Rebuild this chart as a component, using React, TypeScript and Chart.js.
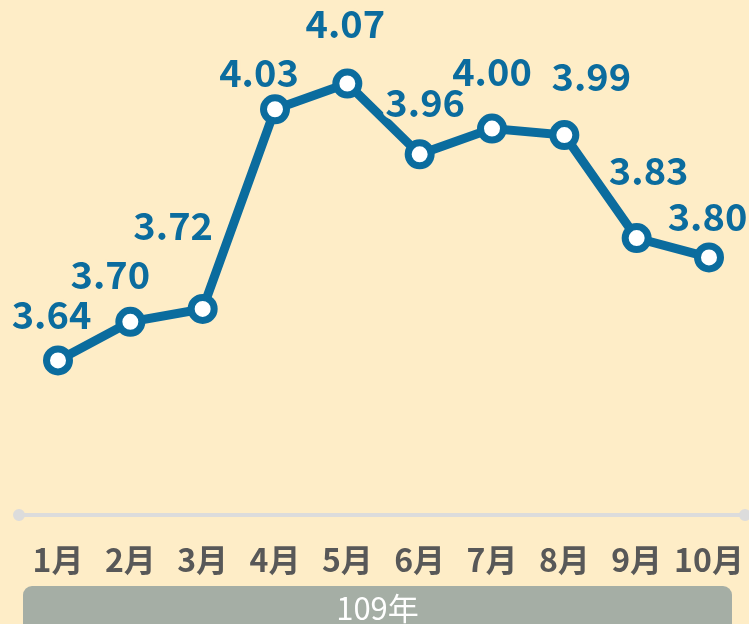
import React, { useEffect, useRef } from "react";
import { Chart, registerables } from "chart.js";

Chart.register(...registerables);

const categories = ["1月", "2月", "3月", "4月", "5月", "6月", "7月", "8月", "9月", "10月"];
const values = [3.64, 3.7, 3.72, 4.03, 4.07, 3.96, 4.0, 3.99, 3.83, 3.8];
const valueLabels = ["3.64", "3.70", "3.72", "4.03", "4.07", "3.96", "4.00", "3.99", "3.83", "3.80"];
const yearLabel = "109年";

// layout: label centre offset from its point (dx, dy)
const labelOffsets: [number, number][] = [
  [-6.5, -45],
  [-20, -46],
  [-29.5, -83],
  [-16, -35.5],
  [-2, -59],
  [5.5, -51],
  [0, -56.5],
  [27, -57.5],
  [12, -67],
  [-1.5, -40],
];

const BG = "#FEEDC7";
const BLUE = "#0B6C9E";
const FONT = "'Noto Sans CJK TC', 'Noto Sans', sans-serif";

const decorPlugin = {
  id: "decor",
  beforeDraw(chart: any) {
    const { ctx, width, height, chartArea } = chart;
    ctx.save();
    ctx.fillStyle = BG;
    ctx.fillRect(0, 0, width, height);
    const y = chartArea.bottom;
    ctx.strokeStyle = "#DCDCDC";
    ctx.lineWidth = 4;
    ctx.beginPath();
    ctx.moveTo(19, y);
    ctx.lineTo(745, y);
    ctx.stroke();
    ctx.fillStyle = "#DCDCDC";
    ctx.beginPath();
    ctx.arc(19, y, 6, 0, Math.PI * 2);
    ctx.arc(745, y, 6, 0, Math.PI * 2);
    ctx.fill();
    ctx.fillStyle = "#A5AEA5";
    const bx = 23, by = 586, bw = 709, bh = 50, r = 9;
    ctx.beginPath();
    ctx.roundRect(bx, by, bw, bh, r);
    ctx.fill();
    ctx.fillStyle = "#FFFFFF";
    ctx.font = `400 31px ${FONT}`;
    ctx.textAlign = "center";
    ctx.textBaseline = "middle";
    ctx.fillText(yearLabel, (bx + bx + bw) / 2, 608);
    ctx.restore();
  },
  afterDatasetsDraw(chart: any) {
    const { ctx } = chart;
    const meta = chart.getDatasetMeta(0);
    ctx.save();
    const fs = 38;
    ctx.font = `700 ${fs}px ${FONT}`;
    ctx.textAlign = "center";
    ctx.textBaseline = "alphabetic";
    ctx.lineJoin = "round";
    meta.data.forEach((pt: any, i: number) => {
      const [dx, dy] = labelOffsets[i];
      const cx = pt.x + dx;
      const cy = pt.y + dy + fs * 0.36;
      ctx.strokeStyle = BG;
      ctx.lineWidth = 6;
      ctx.strokeText(valueLabels[i], cx, cy);
      ctx.fillStyle = BLUE;
      ctx.fillText(valueLabels[i], cx, cy);
    });
    ctx.restore();
  },
};

export default function App() {
  const ref = useRef<HTMLCanvasElement>(null);
  useEffect(() => {
    if (!ref.current) return;
    const chart = new Chart(ref.current, {
      type: "line",
      data: {
        labels: categories,
        datasets: [
          {
            data: values,
            borderColor: BLUE,
            borderWidth: 9,
            pointRadius: 11.5,
            pointBorderWidth: 7,
            pointBackgroundColor: "#FFFFFF",
            pointBorderColor: BLUE,
            tension: 0,
            clip: false as any,
          },
        ],
      },
      options: {
        responsive: false,
        animation: false,
        layout: { padding: { left: 58, right: 40, top: 32, bottom: 46 } },
        plugins: { legend: { display: false }, tooltip: { enabled: false } },
        scales: {
          x: {
            offset: false,
            grid: { display: false, drawTicks: false },
            border: { display: false },
            ticks: {
              padding: 26,
              color: "#585858",
              font: { family: FONT, size: 32, weight: "bold" },
              maxRotation: 0,
              autoSkip: false,
            },
            afterFit(scale: any) {
              scale.paddingLeft = 0;
              scale.paddingRight = 0;
              scale.height = 63;
            },
          },
          y: {
            display: false,
            min: 3.4,
            max: 4.15,
          },
        },
      },
      plugins: [decorPlugin],
    });
    return () => chart.destroy();
  }, []);
  return (
    <div style={{ position: "fixed", left: 0, top: 0, width: 749, height: 624, background: BG, overflow: "hidden" }}>
      <canvas ref={ref} width={749} height={624} style={{ display: "block" }} />
    </div>
  );
}
